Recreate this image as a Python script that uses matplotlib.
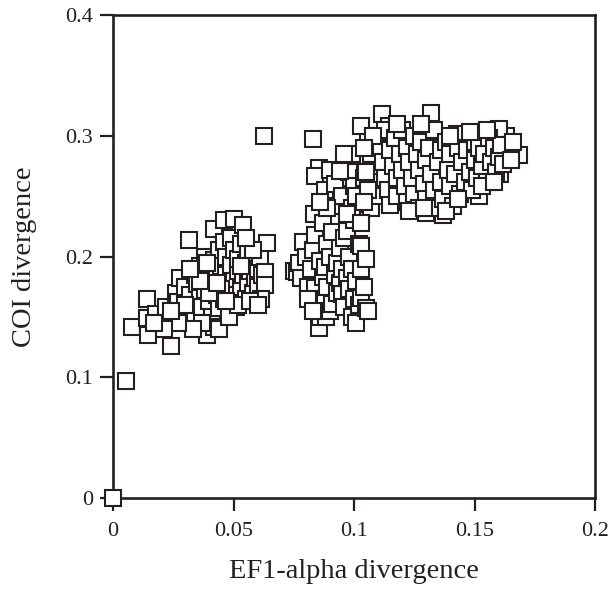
import numpy as np
import matplotlib
matplotlib.use('Agg')
import matplotlib.pyplot as plt

plt.rcParams['font.family'] = ['Liberation Serif', 'DejaVu Serif']

# isolated pairs
x_single = [0.0, 0.0054, 0.0628, 0.083]
y_single = [0.0, 0.0967, 0.300, 0.2975]

# lower-left group
x_low = [0.008, 0.014, 0.0145, 0.014, 0.024, 0.0314,
         0.018, 0.020, 0.022, 0.025, 0.026, 0.027,
         0.028, 0.029, 0.030, 0.031, 0.032, 0.033,
         0.034, 0.034, 0.035, 0.036, 0.036, 0.037,
         0.038, 0.038, 0.039, 0.039, 0.040, 0.040,
         0.041, 0.041, 0.042, 0.042, 0.042, 0.043,
         0.043, 0.044, 0.044, 0.045, 0.045, 0.046,
         0.046, 0.046, 0.047, 0.047, 0.048, 0.048,
         0.049, 0.049, 0.050, 0.050, 0.050, 0.051,
         0.051, 0.052, 0.052, 0.053, 0.053, 0.054,
         0.054, 0.055, 0.055, 0.056, 0.056, 0.057,
         0.058, 0.058, 0.059, 0.060, 0.060, 0.061,
         0.062, 0.063, 0.063, 0.0615, 0.064, 0.037,
         0.033, 0.030, 0.027, 0.024, 0.021, 0.017,
         0.044, 0.048, 0.052, 0.057, 0.045, 0.040,
         0.036, 0.032, 0.039, 0.043, 0.047, 0.053,
         0.058, 0.055, 0.060]
y_low = [0.142, 0.149, 0.135, 0.165, 0.126, 0.214,
         0.152, 0.145, 0.158, 0.150, 0.170, 0.162,
         0.182, 0.155, 0.175, 0.148, 0.168, 0.160,
         0.185, 0.152, 0.177, 0.166, 0.192, 0.158,
         0.172, 0.200, 0.135, 0.183, 0.163, 0.190,
         0.150, 0.176, 0.142, 0.197, 0.223, 0.168,
         0.185, 0.157, 0.205, 0.178, 0.192, 0.165,
         0.230, 0.212, 0.185, 0.200, 0.172, 0.158,
         0.193, 0.215, 0.231, 0.180, 0.205, 0.168,
         0.158, 0.188, 0.198, 0.175, 0.210, 0.226,
         0.185, 0.165, 0.195, 0.178, 0.205, 0.188,
         0.170, 0.196, 0.182, 0.190, 0.175, 0.200,
         0.185, 0.187, 0.176, 0.165, 0.211, 0.145,
         0.140, 0.160, 0.145, 0.155, 0.140, 0.145,
         0.140, 0.150, 0.160, 0.163, 0.173, 0.170,
         0.180, 0.190, 0.195, 0.178, 0.163, 0.192,
         0.205, 0.215, 0.160]

# middle column
x_mid = [0.075, 0.0765, 0.077, 0.078, 0.079, 0.080,
         0.081, 0.082, 0.083, 0.0835, 0.084, 0.084,
         0.085, 0.0855, 0.086, 0.086, 0.087, 0.087,
         0.088, 0.088, 0.0884, 0.089, 0.089, 0.090,
         0.090, 0.091, 0.091, 0.092, 0.092, 0.093,
         0.093, 0.094, 0.094, 0.095, 0.095, 0.096,
         0.096, 0.097, 0.097, 0.098, 0.098, 0.099,
         0.099, 0.100, 0.100, 0.101, 0.101, 0.102,
         0.102, 0.103, 0.103, 0.103, 0.103, 0.104,
         0.105, 0.105, 0.106, 0.081, 0.083,
         0.0855, 0.084, 0.0967, 0.094, 0.088, 0.090,
         0.092, 0.095, 0.098, 0.100, 0.101, 0.102,
         0.104, 0.105, 0.106, 0.107, 0.108, 0.096,
         0.094, 0.099, 0.097, 0.101, 0.089, 0.086]
y_mid = [0.188, 0.187, 0.195, 0.182, 0.212, 0.200,
         0.175, 0.190, 0.205, 0.235, 0.174, 0.218,
         0.160, 0.141, 0.196, 0.150, 0.183, 0.228,
         0.191, 0.165, 0.150, 0.210, 0.175, 0.200,
         0.155, 0.161, 0.220, 0.242, 0.185, 0.170,
         0.195, 0.207, 0.178, 0.169, 0.190, 0.158,
         0.215, 0.221, 0.182, 0.173, 0.200, 0.150,
         0.190, 0.165, 0.230, 0.145, 0.180, 0.210,
         0.160, 0.230, 0.209, 0.190, 0.166, 0.175,
         0.157, 0.198, 0.155, 0.165, 0.155,
         0.2736, 0.267, 0.282, 0.265, 0.255, 0.272,
         0.260, 0.250, 0.270, 0.258, 0.285, 0.245,
         0.265, 0.252, 0.278, 0.240, 0.260, 0.285,
         0.271, 0.240, 0.235, 0.250, 0.240, 0.245]

# upper-right group
x_high = [0.1318, 0.1116, 0.103, 0.1145, 0.1686, 0.164,
          0.163, 0.160, 0.1517, 0.1607, 0.137, 0.130,
          0.103, 0.146, 0.1426, 0.135, 0.1215,
          0.106, 0.107, 0.108, 0.109, 0.110, 0.110,
          0.111, 0.112, 0.113, 0.113, 0.114, 0.115,
          0.115, 0.116, 0.117, 0.118, 0.118, 0.119,
          0.120, 0.120, 0.121, 0.122, 0.122, 0.123,
          0.124, 0.125, 0.125, 0.126, 0.127, 0.127,
          0.128, 0.129, 0.130, 0.130, 0.131, 0.132,
          0.133, 0.133, 0.134, 0.135, 0.136, 0.136,
          0.137, 0.138, 0.139, 0.140, 0.140, 0.141,
          0.142, 0.143, 0.144, 0.145, 0.146, 0.147,
          0.148, 0.149, 0.150, 0.150, 0.151, 0.152,
          0.153, 0.154, 0.155, 0.156, 0.157, 0.158,
          0.159, 0.160, 0.161, 0.162, 0.155, 0.148,
          0.140, 0.128, 0.118, 0.108, 0.104, 0.105,
          0.106, 0.104, 0.123, 0.129, 0.138, 0.143,
          0.153, 0.158, 0.166, 0.165]
y_high = [0.319, 0.318, 0.308, 0.308, 0.284, 0.285,
          0.300, 0.306, 0.250, 0.268, 0.234, 0.236,
          0.228, 0.300, 0.3017, 0.298, 0.298,
          0.295, 0.285, 0.272, 0.300, 0.262, 0.250,
          0.290, 0.278, 0.305, 0.265, 0.255, 0.288,
          0.243, 0.275, 0.298, 0.265, 0.250, 0.285,
          0.272, 0.305, 0.258, 0.290, 0.245, 0.278,
          0.265, 0.300, 0.252, 0.285, 0.240, 0.272,
          0.295, 0.260, 0.280, 0.248, 0.290, 0.268,
          0.305, 0.255, 0.240, 0.278, 0.288, 0.262,
          0.248, 0.295, 0.272, 0.258, 0.285, 0.242,
          0.268, 0.290, 0.252, 0.278, 0.262, 0.288,
          0.270, 0.255, 0.295, 0.280, 0.265, 0.290,
          0.275, 0.285, 0.262, 0.298, 0.278, 0.290,
          0.270, 0.282, 0.292, 0.277, 0.305, 0.303,
          0.300, 0.310, 0.310, 0.300, 0.290, 0.270,
          0.255, 0.245, 0.238, 0.240, 0.238, 0.248,
          0.258, 0.262, 0.295, 0.280]

x_ticks = [0, 0.05, 0.1, 0.15, 0.2]
x_ticklabels = ['0', '0.05', '0.1', '0.15', '0.2']
y_ticks = [0, 0.1, 0.2, 0.3, 0.4]
y_ticklabels = ['0', '0.1', '0.2', '0.3', '0.4']

fig = plt.figure(figsize=(6.13, 5.90), dpi=100)
ax = fig.add_axes([113/613, 1-498/590, 482/613, 483/590])

xs = x_single + x_low + x_mid + x_high
ys = y_single + y_low + y_mid + y_high
ax.plot(xs, ys, ls='none', marker='s', ms=11, mfc='white', mec='#231f20',
        mew=1.5, clip_on=False, zorder=3)

ax.set_xlim(0, 0.2)
ax.set_ylim(0, 0.4)
ax.set_xticks(x_ticks)
ax.set_xticklabels(x_ticklabels)
ax.set_yticks(y_ticks)
ax.set_yticklabels(y_ticklabels)
ax.tick_params(direction='out', length=9.5, width=1.6, colors='#231f20',
               labelsize=16, labelcolor='#231f20')
ax.tick_params(axis='x', pad=8)
ax.tick_params(axis='y', pad=5)
for s in ax.spines.values():
    s.set_linewidth(1.9)
    s.set_color('#231f20')

ax.set_xlabel('EF1-alpha divergence', fontsize=20.5, color='#231f20', labelpad=13)
ax.set_ylabel('COI divergence', fontsize=20.5, color='#231f20', labelpad=20)

fig.savefig('out.png', dpi=100)
